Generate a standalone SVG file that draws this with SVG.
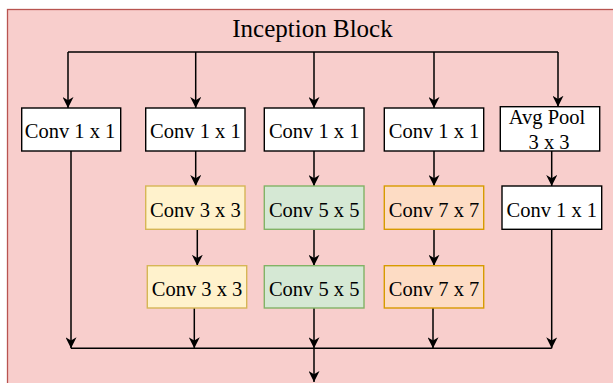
<svg xmlns="http://www.w3.org/2000/svg" width="613" height="383" viewBox="0 0 613 383">
<defs>
<marker id="arr" viewBox="0 0 10 10" refX="10" refY="5" markerWidth="11" markerHeight="11" markerUnits="userSpaceOnUse" orient="auto">
<path d="M0,0 L10,5 L0,10 L3,5 Z" fill="#000"/>
</marker>
</defs>
<style>
.bg{fill:#f8cecc;stroke:#b85450;stroke-width:1.3}
.w{fill:#ffffff;stroke:#000;stroke-width:1.4}
.y{fill:#fff2cc;stroke:#d6b656;stroke-width:1.4}
.g{fill:#d5e8d4;stroke:#82b366;stroke-width:1.4}
.o{fill:#fddcc4;stroke:#d79b00;stroke-width:1.4}
text{font-family:"Liberation Serif","Times New Roman",serif;font-size:20.5px;fill:#000;text-anchor:middle}
.title{font-size:25px}
.c line{stroke:#000;stroke-width:1.5;fill:none}
.a{marker-end:url(#arr)}
</style>
<rect class="bg" x="7.5" y="9.5" width="620" height="390"/>
<text class="title" x="312.5" y="37">Inception Block</text>
<g id="connectors" class="c">
<line x1="68" y1="52" x2="558" y2="52"/>
<line class="a" x1="68" y1="52" x2="68" y2="108"/>
<line class="a" x1="195.7" y1="52" x2="195.7" y2="108"/>
<line class="a" x1="314" y1="52" x2="314" y2="108"/>
<line class="a" x1="434" y1="52" x2="434" y2="108"/>
<line class="a" x1="558" y1="52" x2="558" y2="106.7"/>
<line class="a" x1="195.7" y1="151" x2="195.7" y2="186"/>
<line class="a" x1="314" y1="151" x2="314" y2="186"/>
<line class="a" x1="434" y1="151" x2="434" y2="186"/>
<line class="a" x1="551.7" y1="151" x2="551.7" y2="186"/>
<line class="a" x1="197.3" y1="229.3" x2="197.3" y2="265.7"/>
<line class="a" x1="314" y1="229.3" x2="314" y2="265.7"/>
<line class="a" x1="434" y1="229.3" x2="434" y2="265.7"/>
<line class="a" x1="71" y1="151" x2="71" y2="348.3"/>
<line class="a" x1="194.3" y1="308" x2="194.3" y2="348.3"/>
<line class="a" x1="314" y1="308" x2="314" y2="348.3"/>
<line class="a" x1="433" y1="308" x2="433" y2="348.3"/>
<line class="a" x1="551.7" y1="229.3" x2="551.7" y2="348.3"/>
<line x1="71" y1="348.3" x2="551.7" y2="348.3"/>
<line class="a" x1="314" y1="348.3" x2="314" y2="382"/>
</g>
<g id="n1a"><rect class="w" x="21.7" y="108" width="99" height="43"/><text x="70" y="138">Conv 1 x 1</text></g>
<g id="n2a"><rect class="w" x="145.7" y="108" width="99.3" height="43"/><text x="195.4" y="138">Conv 1 x 1</text></g>
<g id="n3a"><rect class="w" x="264.3" y="108" width="99.7" height="43"/><text x="314.2" y="138">Conv 1 x 1</text></g>
<g id="n4a"><rect class="w" x="384.3" y="108" width="99.4" height="43"/><text x="434" y="138">Conv 1 x 1</text></g>
<g id="n5a"><rect class="w" x="500.3" y="106.7" width="99.4" height="44.3"/><text x="547" y="123.5">Avg Pool</text><text x="549" y="149">3 x 3</text></g>
<g id="n2b"><rect class="y" x="145.7" y="186" width="99.3" height="43.3"/><text x="195.4" y="216.5">Conv 3 x 3</text></g>
<g id="n3b"><rect class="g" x="264.3" y="186" width="99.7" height="43.3"/><text x="314.2" y="216.5">Conv 5 x 5</text></g>
<g id="n4b"><rect class="o" x="384.3" y="186" width="99.4" height="43.3"/><text x="434" y="216.5">Conv 7 x 7</text></g>
<g id="n5b"><rect class="w" x="502" y="186" width="99.7" height="43.3"/><text x="551.8" y="216.5">Conv 1 x 1</text></g>
<g id="n2c"><rect class="y" x="147.3" y="265.7" width="99.4" height="42.3"/><text x="197" y="295.5">Conv 3 x 3</text></g>
<g id="n3c"><rect class="g" x="264.3" y="265.7" width="99.7" height="42.3"/><text x="314.2" y="295.5">Conv 5 x 5</text></g>
<g id="n4c"><rect class="o" x="384.3" y="265.7" width="99.4" height="42.3"/><text x="434" y="295.5">Conv 7 x 7</text></g>
</svg>
